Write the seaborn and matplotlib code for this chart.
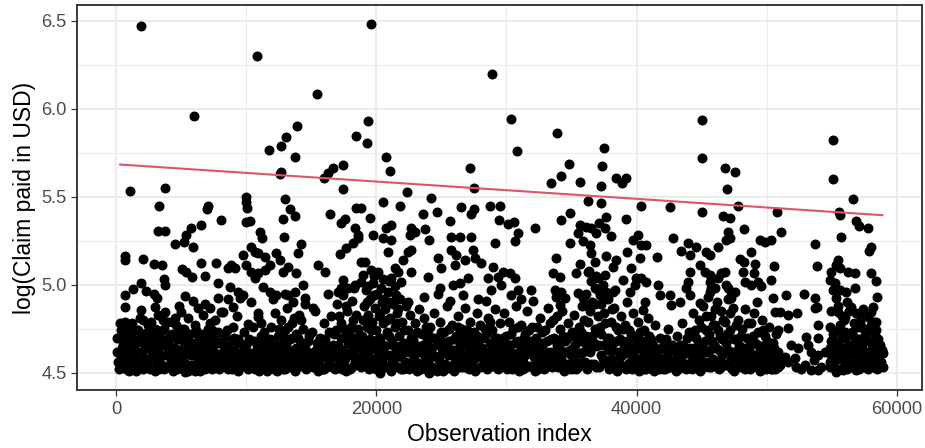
import matplotlib
matplotlib.use("Agg")
import matplotlib.pyplot as plt
import pandas as pd
import seaborn as sns

# ---------------- data (observation index, log claim) ----------------
region_a_upper = [
    (1890, 6.47), (6020, 5.96), (1100, 5.53), (3790, 5.55), (3280, 5.445), (7080, 5.45), (7000, 5.43),
    (8090, 5.37), (6560, 5.34), (5790, 5.32), (5400, 5.28), (3230, 5.305), (3790, 5.305), (4510, 5.23),
    (5220, 5.24), (5920, 5.215), (670, 5.165), (720, 5.14), (2070, 5.145), (2920, 5.12), (3530, 5.11),
    (6500, 5.125), (7710, 5.125), (5070, 5.09), (5410, 5.075), (5840, 5.045), (6810, 5.05), (3690, 5.03),
    (3790, 5.0), (1950, 5.01), (1330, 4.975), (670, 4.94), (2330, 4.965), (2920, 4.95), (3180, 4.925),
    (7840, 5.01), (670, 4.875), (5280, 4.935), (5920, 4.905), (4810, 4.88), (6810, 4.89), (7200, 4.87),
    (8040, 4.845), (1950, 4.855), (1820, 4.81), (2970, 4.875),
]
region_a_band = [
    (670, 4.79), (410, 4.74), (280, 4.695), (670, 4.655), (410, 4.60), (360, 4.535), (1310, 4.535),
    (1820, 4.535), (2200, 4.58), (1560, 4.62), (1950, 4.675), (1690, 4.74), (2330, 4.725), (2710, 4.79),
    (3230, 4.83), (3740, 4.845), (3990, 4.79), (3480, 4.735), (3100, 4.675), (2840, 4.62), (3230, 4.565),
    (3740, 4.535), (4250, 4.58), (4510, 4.64), (4760, 4.695), (5020, 4.75), (5530, 4.81), (6040, 4.77),
    (6300, 4.715), (5920, 4.655), (5280, 4.60), (5020, 4.545), (5280, 4.505), (5790, 4.545), (6300, 4.58),
    (6810, 4.62), (7320, 4.655), (7580, 4.715), (7200, 4.78), (6680, 4.83), (7580, 4.58), (7320, 4.525),
    (7960, 4.60), (8090, 4.675), (4510, 4.81), (3990, 4.695), (2590, 4.655), (1180, 4.675), (920, 4.60),
    (2330, 4.535), (3480, 4.60), (5530, 4.655), (5920, 4.60), (1050, 4.74), (4120, 4.545), (5020, 4.845),
    (6300, 4.865), (2970, 4.75), (3610, 4.80), (150, 4.56), (800, 4.52), (1500, 4.57), (2600, 4.52),
    (2900, 4.70), (4000, 4.62), (4400, 4.51), (4800, 4.58), (5600, 4.53), (6100, 4.51), (6600, 4.55),
    (7000, 4.60), (7800, 4.53), (8200, 4.62), (1200, 4.78), (2100, 4.80), (2500, 4.74), (4300, 4.72),
    (4600, 4.77), (6900, 4.71), (7600, 4.80), (500, 4.66), (1700, 4.55), (3300, 4.52), (3800, 4.66),
    (5400, 4.70), (6500, 4.66), (7400, 4.74), (100, 4.62), (2000, 4.62), (1000, 4.51), (3000, 4.51),
]
region_a_fill = [
    (50, 4.70), (200, 4.52), (300, 4.78), (350, 4.58), (450, 4.64), (550, 4.53), (600, 4.72), (750, 4.60),
    (850, 4.68), (900, 4.55), (1000, 4.76), (1100, 4.63), (1150, 4.53), (1250, 4.70), (1350, 4.58),
    (1400, 4.66), (1550, 4.51), (1600, 4.74), (1750, 4.62), (1800, 4.69), (1900, 4.56), (2050, 4.52),
    (2150, 4.71), (2250, 4.64), (2350, 4.58), (2450, 4.77), (2550, 4.54), (2650, 4.69), (2750, 4.61),
    (2800, 4.53), (2950, 4.66), (3050, 4.58), (3150, 4.74), (3250, 4.62), (3350, 4.69), (3450, 4.55),
    (3550, 4.66), (3650, 4.52), (3700, 4.75), (3850, 4.60), (3950, 4.53), (4050, 4.70), (4150, 4.65),
    (4200, 4.57), (4350, 4.79), (4450, 4.62), (4550, 4.55), (4650, 4.69), (4700, 4.52), (4850, 4.73),
    (4950, 4.63), (5050, 4.58), (5150, 4.68), (5250, 4.75), (5350, 4.55), (5450, 4.62), (5500, 4.51),
    (5650, 4.72), (5750, 4.60), (5850, 4.67), (5950, 4.53), (6050, 4.63), (6150, 4.74), (6250, 4.55),
    (6350, 4.68), (6450, 4.51), (6550, 4.62), (6650, 4.72), (6750, 4.57), (6850, 4.52), (6950, 4.67),
    (7050, 4.75), (7150, 4.56), (7250, 4.63), (7350, 4.52), (7450, 4.69), (7550, 4.62), (7650, 4.55),
    (7750, 4.67), (7850, 4.73), (7950, 4.52), (8100, 4.57),
]
region_b_upper = [
    (10860, 6.30), (15420, 6.083), (11760, 5.767), (12660, 5.79), (13090, 5.84), (13940, 5.90),
    (13730, 5.727), (12580, 5.627), (12710, 5.638), (18440, 5.845), (15980, 5.604), (16290, 5.633),
    (16680, 5.665), (17440, 5.68), (17440, 5.542), (10020, 5.50), (10020, 5.472), (10090, 5.434),
    (10020, 5.354), (10270, 5.362), (13010, 5.487), (13350, 5.43), (13730, 5.39), (12830, 5.371),
    (16420, 5.402), (18470, 5.437), (18850, 5.437), (17570, 5.371), (17270, 5.348), (18340, 5.324),
    (18600, 5.282), (11040, 5.301), (11220, 5.263), (12910, 5.269), (14240, 5.229), (13990, 5.178),
    (10400, 5.216), (10660, 5.188), (10910, 5.178), (11430, 5.159), (9760, 5.169), (12320, 5.178),
    (12580, 5.14), (13220, 5.102), (12830, 5.074), (11810, 5.112), (11430, 5.083), (10910, 5.064),
    (10660, 5.036), (10400, 5.074), (10020, 5.112), (13860, 5.064), (15520, 5.112), (16040, 5.074),
    (17190, 5.172), (17700, 5.206), (18210, 5.235), (18600, 5.263), (18850, 5.131), (8860, 5.112),
    (8610, 5.093), (9120, 5.093), (8740, 4.989), (9380, 4.96), (9760, 4.941), (11300, 4.989),
    (11810, 4.96), (12320, 4.941), (13220, 4.941), (13730, 4.96), (14370, 5.0), (14500, 4.922),
    (16290, 4.945), (17440, 5.027), (17320, 4.979), (17830, 4.979), (18340, 5.0), (18850, 5.017),
    (7840, 4.922), (8220, 4.847), (8610, 4.918), (8990, 4.875), (9500, 4.922), (10400, 4.903),
    (15140, 4.866), (10910, 4.818), (11170, 4.78), (8990, 4.761), (10140, 4.775),
]
region_b_band = [
    (8100, 4.53), (8200, 4.66), (8350, 4.58), (8500, 4.74), (8600, 4.52), (8750, 4.63), (8900, 4.55),
    (9050, 4.70), (9200, 4.60), (9350, 4.51), (9500, 4.67), (9650, 4.56), (9800, 4.73), (9950, 4.62),
    (10100, 4.53), (10250, 4.69), (10400, 4.58), (10550, 4.76), (10700, 4.52), (10850, 4.64),
    (11000, 4.55), (11150, 4.71), (11300, 4.61), (11450, 4.53), (11600, 4.67), (11750, 4.57),
    (11900, 4.76), (12050, 4.63), (12150, 4.52), (12250, 4.84), (12350, 4.59), (12450, 4.71),
    (12550, 4.55), (12650, 4.80), (12750, 4.66), (12850, 4.52), (12950, 4.74), (13050, 4.60),
    (13150, 4.87), (13250, 4.56), (13350, 4.69), (13450, 4.53), (13550, 4.78), (13650, 4.63),
    (13750, 4.51), (13850, 4.72), (13950, 4.58), (14050, 4.83), (14150, 4.66), (14250, 4.54),
    (14350, 4.75), (14450, 4.61), (14600, 4.52), (14750, 4.68), (14900, 4.57), (15050, 4.73),
    (15200, 4.54), (15350, 4.63), (15500, 4.51), (15650, 4.70), (15800, 4.59), (15950, 4.78),
    (16100, 4.53), (16250, 4.65), (16400, 4.56), (16550, 4.82), (16650, 4.61), (16750, 4.72),
    (16850, 4.52), (16950, 4.89), (17050, 4.66), (17150, 4.57), (17250, 4.78), (17350, 4.63),
    (17450, 4.94), (17550, 4.54), (17650, 4.71), (17750, 4.85), (17850, 4.60), (17950, 4.52),
    (18050, 4.76), (18150, 4.91), (18250, 4.65), (18350, 4.56), (18450, 4.83), (18550, 4.70),
    (12100, 4.92), (13000, 4.95), (13600, 4.90), (18250, 4.98), (17050, 4.96), (9300, 4.82),
    (10900, 4.84), (14500, 4.89), (15300, 4.85), (12400, 4.51), (13300, 4.62), (14000, 4.70),
    (16000, 4.52), (17700, 4.51), (11600, 4.51),
]
region_b_fill = [
    (8250, 4.55), (8400, 4.71), (8550, 4.62), (8650, 4.58), (8800, 4.67), (8950, 4.52), (9100, 4.63),
    (9250, 4.56), (9400, 4.69), (9550, 4.53), (9700, 4.62), (9850, 4.58), (10000, 4.66), (10150, 4.52),
    (10300, 4.61), (10450, 4.55), (10600, 4.68), (10750, 4.59), (10950, 4.51), (11050, 4.66),
    (11200, 4.57), (11350, 4.73), (11500, 4.63), (11650, 4.54), (11800, 4.69), (11950, 4.60),
    (12000, 4.53), (12200, 4.57), (12300, 4.66), (12400, 4.62), (12500, 4.75), (12600, 4.64),
    (12700, 4.55), (12800, 4.71), (12900, 4.59), (13000, 4.52), (13100, 4.66), (13200, 4.76),
    (13300, 4.54), (13400, 4.62), (13500, 4.70), (13600, 4.57), (13700, 4.81), (13800, 4.64),
    (13900, 4.53), (14000, 4.62), (14100, 4.55), (14200, 4.80), (14300, 4.67), (14400, 4.57),
    (14550, 4.64), (14700, 4.55), (14850, 4.71), (15000, 4.61), (15150, 4.53), (15300, 4.58),
    (15450, 4.67), (15600, 4.55), (15750, 4.64), (15900, 4.52), (16050, 4.69), (16200, 4.60),
    (16350, 4.73), (16450, 4.64), (16600, 4.53), (16700, 4.66), (16800, 4.59), (16900, 4.74),
    (17000, 4.53), (17100, 4.82), (17200, 4.60), (17300, 4.70), (17400, 4.52), (17500, 4.75),
    (17600, 4.58), (17700, 4.88), (17800, 4.67), (17900, 4.73), (18000, 4.62), (18100, 4.53),
    (18200, 4.80), (18300, 4.70), (18400, 4.59), (18500, 4.64), (18600, 4.75),
]
region_c_upper = [
    (19610, 6.481), (28890, 6.197), (19360, 5.932), (19310, 5.803), (20720, 5.723), (21070, 5.648),
    (27220, 5.665), (27500, 5.549), (22350, 5.528), (24170, 5.494), (20510, 5.472), (21790, 5.447),
    (19490, 5.377), (23580, 5.402), (24660, 5.411), (25630, 5.364), (26530, 5.443), (27500, 5.43),
    (27300, 5.40), (28700, 5.449), (29480, 5.449), (29400, 5.367), (19740, 5.282), (20510, 5.263),
    (20770, 5.32), (21150, 5.339), (21150, 5.254), (22690, 5.32), (22940, 5.301), (22560, 5.282),
    (23710, 5.316), (24020, 5.254), (25710, 5.273), (26400, 5.273), (27300, 5.273), (29090, 5.235),
    (20900, 5.188), (22050, 5.14), (22430, 5.188), (22690, 5.197), (24730, 5.15), (24990, 5.093),
    (25760, 5.197), (26140, 5.169), (26020, 5.112), (26780, 5.14), (27430, 5.197), (27550, 5.15),
    (28070, 5.121), (28960, 5.102), (19100, 5.131), (19610, 5.083), (20130, 5.074), (18970, 5.055),
    (21410, 5.093), (21660, 5.074), (21150, 5.036), (21920, 5.017), (22690, 5.074), (23970, 5.045),
    (24860, 4.979), (25890, 5.0), (26400, 5.008), (27040, 5.036), (28580, 5.036), (29350, 5.045),
    (29600, 5.0), (29730, 5.074),
]
region_c_band = [
    (18800, 4.53), (18900, 4.71), (19000, 4.62), (19050, 4.88), (19150, 4.55), (19200, 4.97),
    (19250, 4.76), (19300, 4.64), (19400, 4.83), (19450, 4.52), (19500, 4.69), (19550, 4.92),
    (19650, 4.58), (19700, 4.79), (19750, 5.01), (19800, 4.66), (19900, 4.87), (19950, 4.54),
    (20000, 4.74), (20050, 4.95), (20150, 4.61), (20200, 4.82), (20250, 4.50), (20300, 4.70),
    (20400, 4.90), (20450, 4.57), (20500, 4.78), (20550, 5.03), (20650, 4.65), (20700, 4.86),
    (20750, 4.53), (20850, 4.73), (20900, 4.96), (20950, 4.60), (21050, 4.81), (21100, 4.51),
    (21200, 4.68), (21250, 4.89), (21300, 4.56), (21400, 4.76), (21450, 4.99), (21550, 4.63),
    (21600, 4.84), (21700, 4.53), (21750, 4.71), (21850, 4.92), (21900, 4.59), (22000, 4.79),
    (22050, 4.52), (22150, 4.67), (22250, 4.88), (19350, 4.99), (19850, 5.05), (20350, 4.98),
    (21000, 5.02), (21500, 4.94), (22300, 4.56), (22400, 4.74), (22500, 4.62), (22600, 4.83),
    (22700, 4.53), (22800, 4.69), (22900, 4.58), (23000, 4.78), (23100, 4.51), (23200, 4.65),
    (23300, 4.86), (23400, 4.55), (23500, 4.72), (23600, 4.61), (23700, 4.81), (23800, 4.52),
    (23900, 4.68), (24000, 4.57), (24100, 4.76), (24200, 4.63), (24300, 4.53), (24400, 4.84),
    (24500, 4.70), (24600, 4.59), (24700, 4.51), (24800, 4.66), (24900, 4.79), (25000, 4.55),
    (25100, 4.62), (25200, 4.73), (25300, 4.52), (25400, 4.88), (25500, 4.60), (25600, 4.68),
    (25700, 4.54), (25800, 4.77), (25900, 4.63), (26000, 4.51), (26100, 4.71), (26200, 4.58),
    (26300, 4.82), (26400, 4.66), (26500, 4.53), (26600, 4.75), (26700, 4.60), (26800, 4.87),
    (26900, 4.56), (27000, 4.69), (27100, 4.52), (27200, 4.79), (27300, 4.63), (27400, 4.57),
    (27500, 4.73), (27600, 4.51), (27700, 4.84), (27800, 4.66), (27900, 4.59), (28000, 4.77),
    (28100, 4.54), (28200, 4.70), (28300, 4.62), (28400, 4.91), (28500, 4.52), (28600, 4.81),
    (28700, 4.67), (28800, 4.56), (28900, 4.74), (29000, 4.60), (29100, 4.86), (29200, 4.53),
    (29300, 4.70), (29400, 4.64), (29500, 4.78), (22450, 4.90), (23650, 4.93), (24750, 4.95),
    (25650, 4.91), (26650, 4.94), (27850, 4.92), (28850, 4.97), (23250, 4.55), (24050, 4.50),
    (25150, 4.51), (26150, 4.60), (27150, 4.58), (28150, 4.64), (29250, 4.58), (22850, 4.63),
    (23950, 4.72), (25050, 4.68), (26250, 4.76), (27350, 4.70), (28450, 4.72), (29550, 4.55),
]
region_c_fill = [
    (18700, 4.66), (18850, 4.58), (18950, 4.80), (19100, 4.68), (19200, 4.58), (19300, 4.90),
    (19400, 4.62), (19500, 4.54), (19600, 4.74), (19700, 4.64), (19800, 4.94), (19900, 4.58),
    (20000, 4.52), (20100, 4.69), (20200, 4.62), (20300, 4.84), (20400, 4.55), (20500, 4.66),
    (20600, 4.92), (20700, 4.60), (20800, 4.80), (20900, 4.54), (21000, 4.71), (21100, 4.90),
    (21200, 4.58), (21300, 4.66), (21400, 4.54), (21500, 4.78), (21600, 4.60), (21700, 4.86),
    (21800, 4.65), (21900, 4.52), (22000, 4.61), (22100, 4.74), (22200, 4.55), (22350, 4.66),
    (22550, 4.52), (22650, 4.70), (22750, 4.61), (22950, 4.66), (23050, 4.56), (23150, 4.73),
    (23350, 4.62), (23450, 4.52), (23550, 4.66), (23750, 4.59), (23850, 4.76), (24000, 4.65),
    (24150, 4.54), (24250, 4.70), (24350, 4.60), (24550, 4.52), (24650, 4.66), (24850, 4.57),
    (24950, 4.73), (25050, 4.61), (25250, 4.55), (25350, 4.66), (25450, 4.53), (25550, 4.75),
    (25750, 4.62), (25850, 4.52), (25950, 4.69), (26050, 4.58), (26250, 4.53), (26350, 4.64),
    (26450, 4.71), (26550, 4.59), (26750, 4.53), (26850, 4.66), (26950, 4.74), (27050, 4.61),
    (27250, 4.55), (27450, 4.66), (27550, 4.52), (27650, 4.62), (27750, 4.71), (27950, 4.53),
    (28050, 4.63), (28250, 4.58), (28350, 4.75), (28550, 4.62), (28650, 4.53), (28750, 4.79),
    (28950, 4.65), (29050, 4.54), (29150, 4.70), (29350, 4.52), (29450, 4.60), (29550, 4.68),
]
region_d_upper = [
    (30320, 5.941), (33860, 5.862), (30840, 5.761), (37470, 5.775), (37370, 5.676), (34800, 5.684),
    (34160, 5.617), (33400, 5.576), (35620, 5.585), (37240, 5.561), (38440, 5.604), (38880, 5.576),
    (39160, 5.608), (36260, 5.477), (37240, 5.462), (34160, 5.367), (34860, 5.405), (39210, 5.373),
    (37670, 5.383), (37080, 5.348), (30120, 5.343), (30580, 5.354), (30890, 5.292), (30630, 5.248),
    (32170, 5.324), (35620, 5.339), (36140, 5.33), (35500, 5.292), (35880, 5.248), (36520, 5.32),
    (36900, 5.292), (37550, 5.32), (38060, 5.277), (34860, 5.235), (36390, 5.225), (36520, 5.178),
    (36780, 5.131), (39720, 5.254), (40110, 5.282), (40360, 5.225), (39290, 5.188), (39590, 5.093),
    (33830, 5.15), (33580, 5.064), (34090, 5.045), (35620, 5.116), (35370, 5.064), (37670, 5.165),
    (38440, 5.14), (38190, 5.102), (40230, 5.15), (30240, 5.064), (30630, 5.036), (36260, 5.074),
    (37030, 5.036), (37550, 5.055), (38950, 5.027), (39980, 5.036), (34470, 4.922), (34090, 4.884),
    (35500, 4.951), (35880, 4.922), (36780, 4.979), (37670, 4.96), (38190, 4.96), (39470, 4.96),
    (39850, 5.0), (40360, 5.036), (40360, 5.447), (30890, 4.97), (30370, 4.94), (31140, 4.92),
    (31910, 4.97), (32040, 4.91), (33700, 4.97), (34220, 4.96),
]
region_d_band = [
    (29700, 4.62), (29800, 4.84), (29900, 4.53), (30000, 4.71), (30100, 4.58), (30200, 4.79),
    (30300, 4.66), (30400, 4.52), (30500, 4.75), (30600, 4.60), (30700, 4.88), (30800, 4.55),
    (30900, 4.68), (31000, 4.51), (31100, 4.77), (31200, 4.63), (31300, 4.56), (31400, 4.72),
    (31500, 4.53), (31600, 4.85), (31700, 4.61), (31800, 4.68), (31900, 4.54), (32000, 4.76),
    (32100, 4.59), (32200, 4.51), (32300, 4.70), (32400, 4.64), (32500, 4.55), (32600, 4.81),
    (32700, 4.58), (32800, 4.67), (32900, 4.52), (33000, 4.74), (33100, 4.62), (33200, 4.87),
    (33300, 4.56), (33400, 4.69), (33500, 4.53), (33600, 4.80), (33700, 4.60), (33800, 4.93),
    (33900, 4.66), (34000, 4.54), (34100, 4.75), (34200, 4.58), (34300, 4.85), (34400, 4.51),
    (34500, 4.68), (34600, 4.62), (34700, 4.78), (34800, 4.55), (34900, 4.71), (35000, 4.52),
    (35100, 4.64), (35200, 4.83), (35300, 4.57), (35400, 4.70), (35500, 4.53), (35600, 4.76),
    (35700, 4.61), (35800, 4.88), (35900, 4.56), (36000, 4.67), (36100, 4.95), (36200, 4.52),
    (36300, 4.79), (36400, 4.62), (36500, 5.02), (36600, 4.71), (36700, 4.55), (36800, 4.89),
    (36900, 4.65), (37000, 4.97), (37100, 4.53), (37200, 4.76), (37300, 4.60), (37400, 5.00),
    (37500, 4.84), (37600, 4.57), (37700, 4.70), (37800, 4.92), (37900, 4.52), (38000, 4.79),
    (38100, 4.63), (38200, 4.55), (38300, 4.87), (38400, 4.68), (38500, 4.51), (38600, 4.74),
    (38700, 4.59), (38800, 4.82), (38900, 4.54), (39000, 4.66), (39100, 4.77), (39200, 4.52),
    (39300, 4.90), (39400, 4.61), (39500, 4.56), (39600, 4.72), (39700, 4.84), (39800, 4.53),
    (39900, 4.65), (40000, 4.58), (40100, 4.79), (40200, 4.51), (40300, 4.68), (36350, 5.08),
    (36850, 5.05), (37350, 4.94), (36250, 4.88), (37250, 4.89), (38350, 4.97),
]
region_d_fill = [
    (29650, 4.54), (29750, 4.70), (29850, 4.60), (29950, 4.66), (30050, 4.52), (30150, 4.64),
    (30250, 4.56), (30350, 4.72), (30450, 4.61), (30550, 4.53), (30650, 4.67), (30750, 4.58),
    (30850, 4.76), (30950, 4.62), (31050, 4.55), (31150, 4.66), (31250, 4.52), (31350, 4.70),
    (31450, 4.60), (31550, 4.66), (31650, 4.54), (31750, 4.74), (31850, 4.61), (31950, 4.66),
    (32050, 4.53), (32150, 4.63), (32250, 4.58), (32350, 4.76), (32450, 4.52), (32550, 4.66),
    (32650, 4.60), (32750, 4.73), (32850, 4.55), (32950, 4.62), (33050, 4.53), (33150, 4.68),
    (33250, 4.60), (33350, 4.78), (33450, 4.62), (33550, 4.55), (33650, 4.70), (33750, 4.57),
    (33850, 4.82), (33950, 4.53), (34050, 4.64), (34150, 4.67), (34250, 4.54), (34350, 4.71),
    (34450, 4.62), (34550, 4.55), (34650, 4.69), (34750, 4.52), (34850, 4.63), (34950, 4.60),
    (35050, 4.73), (35150, 4.55), (35250, 4.66), (35350, 4.52), (35450, 4.61), (35550, 4.68),
    (35650, 4.55), (35750, 4.73), (35850, 4.62), (35950, 4.80), (36050, 4.56), (36150, 4.71),
    (36300, 4.64), (36400, 4.85), (36500, 4.55), (36600, 4.90), (36700, 4.67), (36800, 4.75),
    (36900, 4.53), (37000, 4.82), (37100, 4.66), (37200, 4.94), (37300, 4.72), (37400, 4.58),
    (37500, 4.66), (37600, 4.78), (37700, 4.55), (37800, 4.63), (37900, 4.70), (38000, 4.58),
    (38100, 4.86), (38200, 4.67), (38300, 4.53), (38450, 4.76), (38550, 4.62), (38650, 4.55),
    (38750, 4.69), (38850, 4.60), (38950, 4.75), (39050, 4.53), (39150, 4.62), (39250, 4.68),
    (39350, 4.55), (39450, 4.74), (39550, 4.64), (39650, 4.52), (39750, 4.61), (39850, 4.70),
    (39950, 4.55), (40050, 4.66), (40150, 4.58), (40250, 4.73), (40350, 4.54),
]
region_e_upper = [
    (45050, 5.938), (45030, 5.718), (46770, 5.665), (47590, 5.638), (46950, 5.544), (47790, 5.449),
    (42590, 5.439), (45030, 5.415), (46640, 5.39), (47150, 5.377), (50820, 5.415), (51120, 5.301),
    (48230, 5.314), (47020, 5.301), (46900, 5.254), (47150, 5.263), (40750, 5.225), (42800, 5.263),
    (43950, 5.235), (43440, 5.193), (44080, 5.169), (44590, 5.216), (45360, 5.188), (45620, 5.169),
    (46260, 5.216), (49460, 5.254), (49840, 5.244), (50350, 5.254), (48820, 5.188), (47920, 5.146),
    (48250, 5.131), (49070, 5.116), (50560, 5.108), (41600, 5.159), (44850, 5.112), (45240, 5.074),
    (45620, 5.055), (46510, 5.064), (46770, 5.074), (46260, 5.036), (48180, 5.074), (49020, 5.064),
    (49330, 5.017), (44080, 5.074), (43950, 5.017), (43820, 4.979), (44080, 4.941), (40750, 5.017),
    (41650, 5.0), (41770, 4.941), (42540, 4.941), (42670, 4.884), (43310, 4.903), (44900, 4.894),
    (45620, 5.017), (45740, 4.979), (47020, 4.979), (47540, 4.96), (47280, 4.922), (48300, 5.017),
    (48820, 5.0), (49580, 4.99), (50350, 5.027), (50480, 4.922), (50610, 4.847), (40620, 4.903),
    (40490, 4.856),
]
region_e_band = [
    (40500, 4.57), (40600, 4.74), (40700, 4.52), (40800, 4.65), (40900, 4.81), (41000, 4.55),
    (41100, 4.69), (41200, 4.60), (41300, 4.51), (41400, 4.77), (41500, 4.63), (41700, 4.54),
    (41800, 4.70), (41900, 4.58), (42000, 4.52), (42100, 4.66), (42300, 4.61), (42400, 4.75),
    (42500, 4.53), (42700, 4.57), (42800, 4.64), (43000, 4.51), (43100, 4.71), (43200, 4.59),
    (43400, 4.55), (43500, 4.78), (43600, 4.66), (43800, 4.52), (43900, 4.61), (44000, 4.73),
    (44200, 4.56), (44300, 4.84), (44400, 4.64), (44500, 4.53), (44600, 4.70), (44700, 4.59),
    (44800, 4.80), (44900, 4.51), (45000, 4.66), (45100, 4.88), (45200, 4.56), (45300, 4.74),
    (45400, 4.62), (45500, 4.93), (45600, 4.53), (45700, 4.82), (45800, 4.68), (45900, 4.58),
    (46000, 4.77), (46100, 4.64), (46200, 4.90), (46300, 4.52), (46400, 4.71), (46500, 4.85),
    (46600, 4.60), (46700, 4.55), (46800, 4.79), (46900, 4.67), (47000, 4.92), (47100, 4.54),
    (47200, 4.74), (47300, 4.62), (47400, 4.87), (47500, 4.51), (47600, 4.69), (47700, 4.58),
    (47800, 4.80), (47900, 4.64), (48000, 4.53), (48100, 4.75), (48200, 4.60), (48300, 4.86),
    (48400, 4.55), (48500, 4.70), (48600, 4.63), (48700, 4.52), (48800, 4.78), (48900, 4.58),
    (49000, 4.84), (49100, 4.67), (49200, 4.54), (49300, 4.73), (49400, 4.61), (49500, 4.51),
    (49600, 4.80), (49700, 4.65), (49800, 4.56), (49900, 4.71), (50000, 4.53), (50100, 4.62),
    (50200, 4.76), (50300, 4.58), (50400, 4.52), (50500, 4.67), (50600, 4.55), (50700, 4.72),
    (50800, 4.60), (50900, 4.53), (46050, 4.98), (46850, 5.00), (45650, 4.96), (47250, 4.96),
    (49250, 4.90),
]
region_e_fill = [
    (40450, 4.63), (40550, 4.52), (40650, 4.68), (40750, 4.59), (40850, 4.54), (40950, 4.71),
    (41050, 4.62), (41150, 4.52), (41250, 4.66), (41350, 4.57), (41450, 4.53), (41600, 4.61),
    (41750, 4.52), (41850, 4.64), (42050, 4.56), (42200, 4.52), (42250, 4.69), (42450, 4.58),
    (42600, 4.53), (42750, 4.66), (42900, 4.55), (43050, 4.62), (43150, 4.52), (43300, 4.66),
    (43450, 4.58), (43550, 4.53), (43700, 4.62), (43850, 4.70), (43950, 4.55), (44100, 4.64),
    (44250, 4.52), (44350, 4.59), (44450, 4.74), (44550, 4.61), (44650, 4.53), (44750, 4.66),
    (44850, 4.57), (44950, 4.76), (45050, 4.61), (45150, 4.53), (45250, 4.68), (45350, 4.82),
    (45450, 4.56), (45550, 4.72), (45650, 4.63), (45750, 4.53), (45850, 4.77), (45950, 4.66),
    (46050, 4.86), (46150, 4.56), (46250, 4.74), (46350, 4.63), (46450, 4.53), (46550, 4.69),
    (46650, 4.80), (46750, 4.62), (46850, 4.55), (46950, 4.72), (47050, 4.63), (47150, 4.84),
    (47250, 4.58), (47350, 4.52), (47450, 4.69), (47550, 4.62), (47650, 4.77), (47750, 4.53),
    (47850, 4.66), (47950, 4.58), (48050, 4.71), (48150, 4.55), (48250, 4.64), (48350, 4.52),
    (48450, 4.62), (48550, 4.78), (48650, 4.57), (48750, 4.66), (48850, 4.53), (48950, 4.71),
    (49050, 4.60), (49150, 4.55), (49350, 4.66), (49450, 4.56), (49550, 4.62), (49650, 4.53),
    (49750, 4.74), (49850, 4.61), (49950, 4.52), (50050, 4.68), (50150, 4.56), (50250, 4.63),
    (50350, 4.52), (50450, 4.58), (50550, 4.64), (50650, 4.52), (50750, 4.56), (50850, 4.62),
]
region_f_upper = [
    (55090, 5.822), (55090, 5.60), (56620, 5.485), (55520, 5.411), (55600, 5.396), (56880, 5.362),
    (57060, 5.335), (57770, 5.32), (55670, 5.273), (53730, 5.233), (57980, 5.216), (57820, 5.191),
    (53880, 5.108), (55470, 5.14), (55340, 5.112), (55600, 5.093), (56240, 5.074), (56750, 5.064),
    (54960, 5.074), (54830, 5.027), (55210, 5.008), (58030, 5.064), (58420, 5.021), (56750, 4.979),
    (56110, 4.96), (55600, 4.97), (55090, 4.97), (55340, 4.922), (58490, 4.93), (58170, 4.875),
    (58030, 4.847), (58420, 4.79), (58420, 4.742), (51500, 4.941), (52860, 4.947), (53680, 4.922),
    (53880, 4.875), (53730, 4.866), (50990, 4.847), (51630, 4.828), (52350, 4.837), (55470, 4.847),
    (55980, 4.818), (56500, 4.875), (56880, 4.837), (57260, 4.809), (57770, 4.818), (50860, 4.742),
    (51630, 4.752), (53930, 4.77), (54830, 4.76), (55600, 4.77), (55980, 4.733), (57010, 4.761),
    (57520, 4.714), (58290, 4.714), (53040, 4.705), (53930, 4.695),
]
region_f_band = [
    (51370, 4.591), (52140, 4.581), (52400, 4.638), (53160, 4.657), (53420, 4.619), (53930, 4.60),
    (54830, 4.638), (54960, 4.60), (55730, 4.619), (56240, 4.657), (56620, 4.619), (57010, 4.581),
    (57520, 4.60), (58290, 4.657), (58540, 4.60), (58900, 4.61), (50990, 4.544), (51630, 4.563),
    (52270, 4.534), (52910, 4.544), (53420, 4.515), (53930, 4.515), (54830, 4.534), (55340, 4.506),
    (55850, 4.515), (56500, 4.544), (56880, 4.515), (57520, 4.534), (58030, 4.553), (58540, 4.572),
    (56240, 4.714), (56750, 4.695), (57260, 4.676), (55470, 4.676), (55980, 4.695), (55200, 4.56),
    (55700, 4.58), (56000, 4.54), (56400, 4.60), (56900, 4.56), (57300, 4.63), (57700, 4.57),
    (58100, 4.62), (55400, 4.66), (55900, 4.63), (56300, 4.72), (56700, 4.78), (57100, 4.69),
    (57500, 4.75), (57900, 4.68), (58300, 4.58), (55100, 4.72), (55800, 4.82), (56500, 4.66),
    (57000, 4.64), (58600, 4.54), (56100, 4.59), (58000, 4.77), (57400, 4.86), (56200, 4.90),
    (55500, 4.88), (54900, 4.85), (58700, 4.66),
]
region_f_fill = [
    (54850, 4.56), (54950, 4.68), (55050, 4.62), (55150, 4.53), (55250, 4.66), (55350, 4.58),
    (55450, 4.74), (55550, 4.52), (55650, 4.62), (55750, 4.70), (55850, 4.57), (55950, 4.80),
    (56050, 4.64), (56150, 4.52), (56250, 4.60), (56350, 4.85), (56450, 4.55), (56550, 4.73),
    (56650, 4.64), (56750, 4.53), (56850, 4.69), (56950, 4.60), (57050, 4.52), (57150, 4.78),
    (57250, 4.58), (57350, 4.66), (57450, 4.53), (57550, 4.69), (57650, 4.62), (57750, 4.52),
    (57850, 4.74), (57950, 4.58), (58050, 4.66), (58150, 4.53), (58250, 4.79), (58350, 4.64),
    (58450, 4.52), (58550, 4.69), (58650, 4.60), (58750, 4.56), (58850, 4.63), (58900, 4.53),
    (52600, 4.52), (53600, 4.57), (54200, 4.53), (51900, 4.66), (54500, 4.62),
]

fit_x = [300, 58900]
fit_y = [5.683, 5.395]

x_major = [0, 20000, 40000, 60000]
x_minor = [10000, 30000, 50000]
y_major = [4.5, 5.0, 5.5, 6.0, 6.5]
y_minor = [4.75, 5.25, 5.75, 6.25]
x_title = "Observation index"
y_title = "log(Claim paid in USD)"

# ---------------- plotting ----------------
sns.set_style("white")
plt.rcParams["font.family"] = ["Liberation Sans", "DejaVu Sans"]

points = (region_a_upper + region_a_band + region_a_fill +
          region_b_upper + region_b_band + region_b_fill +
          region_c_upper + region_c_band + region_c_fill +
          region_d_upper + region_d_band + region_d_fill +
          region_e_upper + region_e_band + region_e_fill +
          region_f_upper + region_f_band + region_f_fill)
df = pd.DataFrame(points, columns=["index", "log_claim"])
fit_df = pd.DataFrame({"index": fit_x, "log_claim": fit_y})

W, H = 925, 448
fig = plt.figure(figsize=(W / 150, H / 150), dpi=150)
left, right, top, bottom = 77, 922, 4.9, 390.3
ax = fig.add_axes([left / W, 1 - bottom / H, (right - left) / W, (bottom - top) / H])
ax.set_facecolor("white")
ax.set_axisbelow(True)

ax.set_xticks(x_major)
ax.set_xticks(x_minor, minor=True)
ax.set_yticks(y_major)
ax.set_yticks(y_minor, minor=True)
ax.grid(which="major", color="#EBEBEB", linewidth=1.0)
ax.grid(which="minor", color="#EBEBEB", linewidth=0.5)

sns.scatterplot(data=df, x="index", y="log_claim", color="black", s=23,
                linewidth=0, ax=ax, zorder=3)
sns.lineplot(data=fit_df, x="index", y="log_claim", color="#DF536B",
             linewidth=1.0, ax=ax, zorder=4)

ax.set_xlim(-2997, 61929)
ax.set_ylim(4.40, 6.59)
ax.set_xticklabels([f"{v:d}" for v in x_major])
ax.set_yticklabels([f"{v:.1f}" for v in y_major])

ax.tick_params(which="major", length=2.75, width=0.6, color="#333333",
               labelcolor="#4D4D4D", labelsize=8.8, pad=2.2,
               bottom=True, left=True)
ax.tick_params(which="minor", length=0)
for sp in ax.spines.values():
    sp.set_color("#333333")
    sp.set_linewidth(0.9)

ax.set_xlabel(x_title, fontsize=11, color="black", labelpad=2.75)
ax.set_ylabel(y_title, fontsize=11, color="black", labelpad=2.75)

fig.savefig("out.png", dpi=150, facecolor="white")
